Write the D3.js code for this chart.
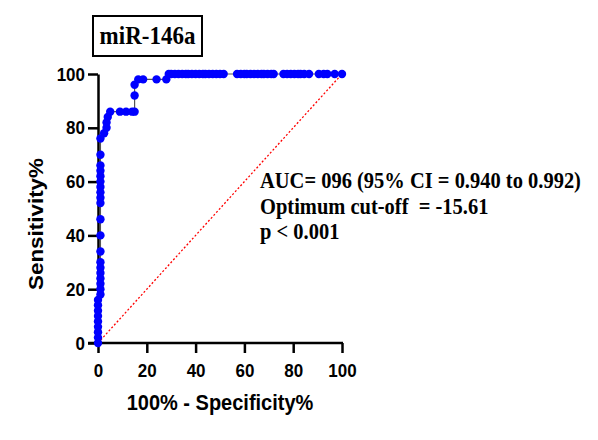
<!DOCTYPE html>
<html lang="en">
<head>
    <meta charset="UTF-8">
    <title>miR-146a ROC</title>
    <script src="https://d3js.org/d3.v7.min.js"></script>
    <style>
        body { margin: 0; background: #fff; }
        .tick text { font-family: "Liberation Sans", Arial, sans-serif; font-weight: bold; font-size: 17px; fill: #000; }
        .axis-title { font-family: "Liberation Sans", Arial, sans-serif; font-weight: bold; font-size: 20px; }
        .serif { font-family: "Liberation Serif", "Times New Roman", serif; font-weight: bold; }
    </style>
</head>
<body>
<div id="chart"></div>
<script>
    const width = 598;
    const height = 440;
    const stretch = 1.12; // the source figure is slightly stretched vertically

    // ROC points: 100% - specificity (x) and sensitivity (y)
    const fpr = [0, 0, 0, 0, 0, 0, 0, 0, 0,
        1, 1, 1, 1, 1, 1, 1, 1, 1, 1, 1, 1, 1, 1, 1, 1, 1, 1, 1, 1,
        2.5, 3.5, 3.5, 4, 5, 9, 11.5, 14, 15, 15, 15,
        16.5, 18.5, 24, 28,
        29, 30, 31.5, 33, 34.5, 36, 37, 38.5, 40, 41.5, 43, 44, 45.5, 47, 48.5, 50, 51.5,
        57, 58.5, 60, 61, 62.5, 64, 65.5, 67, 68, 69.5, 71, 72,
        76, 77.5, 79, 80.5, 82, 83, 84.5, 86.5,
        90.5, 92.5, 94, 97, 100];
    const tpr = [0, 2, 4, 6, 8, 10, 12, 14, 16,
        18, 20, 22, 24, 26, 28, 30, 34, 40, 46, 52, 54, 56, 58, 60, 62, 64, 66, 70, 76,
        78, 80, 82, 84, 86, 86, 86, 86, 86, 92, 96,
        98, 98, 98, 98,
        100, 100, 100, 100, 100, 100, 100, 100, 100, 100, 100, 100, 100, 100, 100, 100, 100,
        100, 100, 100, 100, 100, 100, 100, 100, 100, 100, 100, 100,
        100, 100, 100, 100, 100, 100, 100, 100,
        100, 100, 100, 100, 100];

    const xTicks = [0, 20, 40, 60, 80, 100];
    const yTicks = [0, 20, 40, 60, 80, 100];
    const chartTitle = "miR-146a";
    const notes = ["AUC= 096 (95% CI = 0.940 to 0.992)", "Optimum cut-off  = -15.61", "p < 0.001"];

    const points = fpr.map((d, i) => ({x: d, y: tpr[i]}));

    const svg = d3.select("#chart").append("svg")
        .attr("width", width)
        .attr("height", height);

    const x = d3.scaleLinear().domain([0, 100]).range([98, 342]);
    const y = d3.scaleLinear().domain([0, 100]).range([343, 74]);

    // axes
    const xAxis = svg.append("g")
        .attr("transform", `translate(0,${y(0)})`)
        .call(d3.axisBottom(x).tickValues(xTicks).tickSize(10).tickSizeOuter(0).tickPadding(8));
    const yAxis = svg.append("g")
        .attr("transform", `translate(${x(0)},0)`)
        .call(d3.axisLeft(y).tickValues(yTicks).tickSize(10).tickSizeOuter(0).tickPadding(3));

    [xAxis, yAxis].forEach(g => {
        g.select(".domain").attr("stroke", "#000").attr("stroke-width", 2.5);
        g.selectAll(".tick line").attr("stroke", "#000").attr("stroke-width", 2.5);
        g.selectAll(".tick text").attr("transform", `scale(1,${stretch})`);
    });
    // extend x axis line to the y=0 tick
    xAxis.select(".domain").attr("d", `M${x(0) - 10},0H${x(100) + 1}`);

    // reference diagonal
    svg.append("line")
        .attr("x1", x(0)).attr("y1", y(0))
        .attr("x2", x(100)).attr("y2", y(100))
        .attr("stroke", "#ff0000")
        .attr("stroke-width", 1.3)
        .attr("stroke-dasharray", "2,2");

    // curve
    svg.append("path")
        .datum(points)
        .attr("fill", "none")
        .attr("stroke", "#555")
        .attr("stroke-width", 1.2)
        .attr("d", d3.line().x(d => x(d.x)).y(d => y(d.y)));

    svg.append("g")
        .selectAll("circle")
        .data(points)
        .enter()
        .append("circle")
        .attr("cx", d => x(d.x))
        .attr("cy", d => y(d.y))
        .attr("r", 4.2)
        .attr("fill", "#0000ff");

    // axis titles
    svg.append("text")
        .attr("class", "axis-title")
        .attr("transform", `translate(${(x(0) + x(100)) / 2},410) scale(1,${stretch})`)
        .attr("text-anchor", "middle")
        .text("100% - Specificity%");

    svg.append("text")
        .attr("class", "axis-title")
        .attr("transform", `translate(43,224) scale(1,${stretch}) rotate(-90)`)
        .attr("text-anchor", "middle")
        .text("Sensitivity%");

    // boxed title
    svg.append("rect")
        .attr("x", 93).attr("y", 16)
        .attr("width", 109).attr("height", 40)
        .attr("fill", "none")
        .attr("stroke", "#000")
        .attr("stroke-width", 2);

    svg.append("text")
        .attr("class", "serif")
        .attr("transform", `translate(147.5,44) scale(1,${stretch})`)
        .attr("text-anchor", "middle")
        .attr("font-size", 23)
        .text(chartTitle);

    // statistics note
    svg.append("g")
        .selectAll("text")
        .data(notes)
        .enter()
        .append("text")
        .attr("class", "serif")
        .attr("transform", (d, i) => `translate(260,${188 + i * 25.5}) scale(1,${stretch})`)
        .attr("font-size", 20.5)
        .style("white-space", "pre")
        .text(d => d);
</script>
</body>
</html>
